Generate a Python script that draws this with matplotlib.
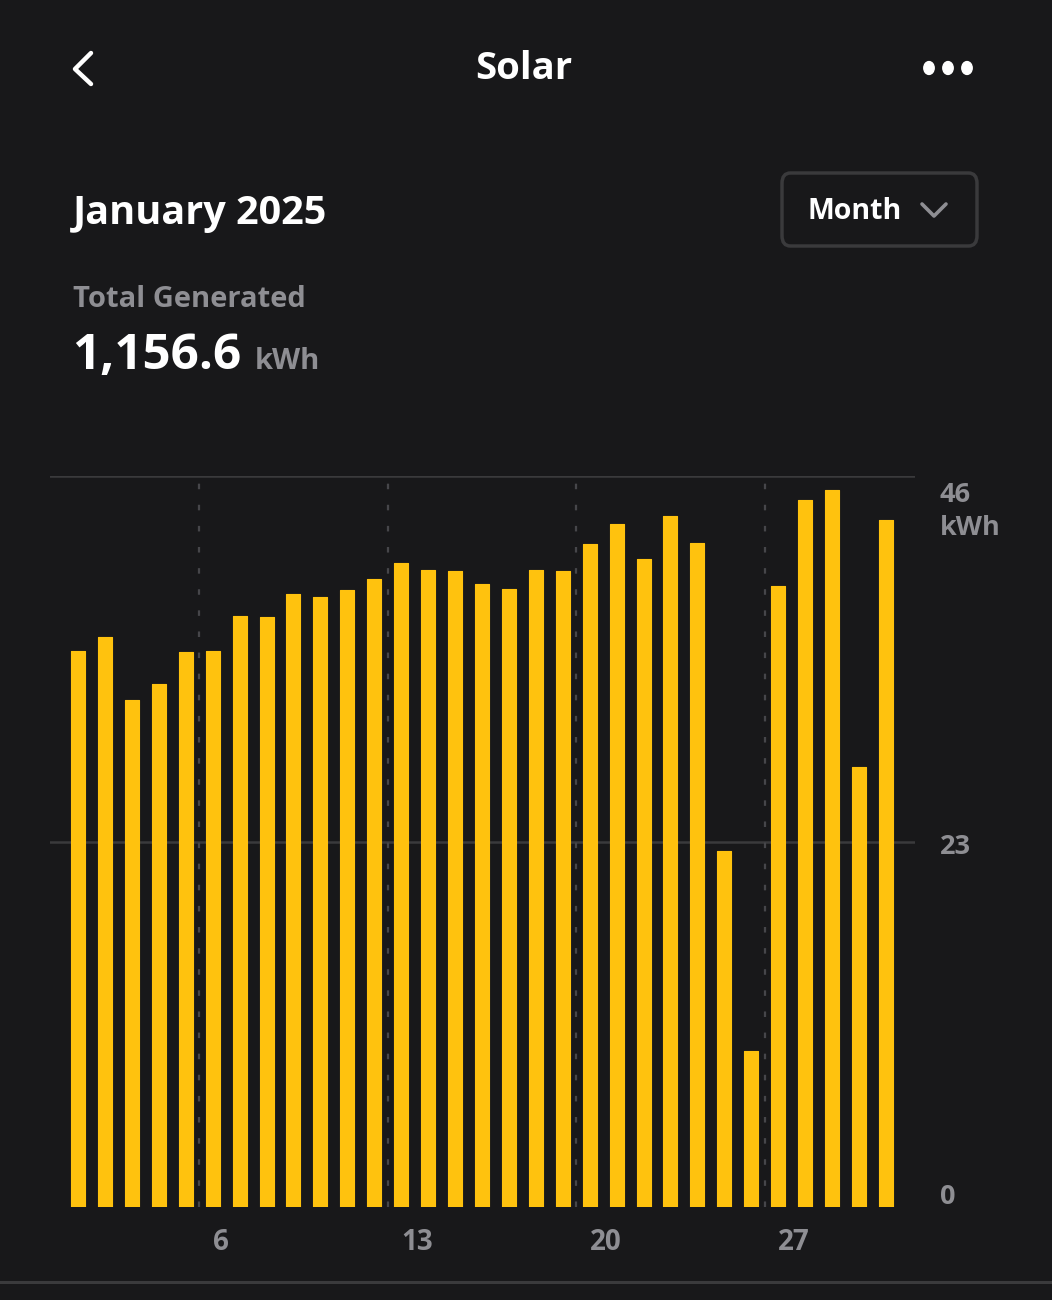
import matplotlib
matplotlib.use("Agg")
import matplotlib.pyplot as plt
from matplotlib.patches import FancyBboxPatch, Circle
from matplotlib.lines import Line2D
import numpy as np

# ---- data ----
days = list(range(1, 32))
kwh = [35.0, 35.9, 31.9, 32.9, 34.9, 35.0, 37.2, 37.1, 38.6, 38.4,
       38.8, 39.5, 40.5, 40.1, 40.0, 39.2, 38.9, 40.1, 40.0, 41.7,
       43.0, 40.8, 43.5, 41.8, 22.4, 9.8, 39.1, 44.5, 45.1, 27.7, 43.2]
x_tick_days = [6, 13, 20, 27]
y_ticks = [0, 23, 46]
title = "Solar"
period = "January 2025"
range_label = "Month"
total_label = "Total Generated"
total_value = "1,156.6"
unit = "kWh"

BG = "#18181a"
BAR = "#FFC20E"
GRID = "#3a3a3c"
GRAY = "#8e8e93"
WHITE = "#ffffff"
FONT = "Open Sans"

W, H = 1052, 1300
fig = plt.figure(figsize=(W / 100, H / 100), dpi=100)
fig.patch.set_facecolor(BG)

def fx(px):
    return px / W

def fy(py):
    return 1 - py / H

def ftext(x, y, s, **kw):
    kw.setdefault("family", FONT)
    kw.setdefault("fontweight", "bold")
    kw.setdefault("va", "baseline")
    kw.setdefault("ha", "left")
    return fig.text(fx(x), fy(y), s, **kw)

# ---- header ----
ftext(524, 79, title, color=WHITE, fontsize=27.5, ha="center")
# back chevron
fig.add_artist(Line2D([fx(91), fx(75), fx(91)], [fy(53), fy(69), fy(84)],
                      color=WHITE, lw=3.2, solid_capstyle="round",
                      solid_joinstyle="round", transform=fig.transFigure))
# three dots
for cx in (929, 948, 967):
    fig.add_artist(Circle((fx(cx), fy(68)), radius=5.2 / W, color=WHITE,
                          transform=fig.transFigure))

ftext(73, 224, period, color=WHITE, fontsize=28.5)

# Month button
btn = FancyBboxPatch((fx(782), fy(246)), fx(977 - 782), (246 - 173) / H,
                     boxstyle="round,pad=0,rounding_size=0.008",
                     transform=fig.transFigure, facecolor=BG,
                     edgecolor=GRID, lw=2.5)
fig.add_artist(btn)
ftext(807, 219, range_label, color=WHITE, fontsize=20.5)
fig.add_artist(Line2D([fx(922), fx(934), fx(946)], [fy(204), fy(216), fy(204)],
                      color=GRAY, lw=2.6, solid_capstyle="round",
                      solid_joinstyle="round", transform=fig.transFigure))

ftext(73, 307, total_label, color=GRAY, fontsize=21)
ftext(72, 369, total_value, color=WHITE, fontsize=35.5)
ftext(255, 369, unit, color=GRAY, fontsize=21)

# ---- chart ----
left, right, top, bottom = 50, 915, 476, 1207
ax = fig.add_axes([fx(left), fy(bottom), fx(right - left), (bottom - top) / H])
ax.set_facecolor(BG)
slot = 26.93
x0 = 1 - (78 - left) / slot
x1 = 1 + (right - 78) / slot
ax.set_xlim(x0, x1)
ax.set_ylim(0, 46)

ax.bar(days, kwh, width=0.52, color=BAR, edgecolor=BAR, linewidth=0.8,
       joinstyle="round", zorder=3)

for yv in y_ticks[1:]:
    ax.axhline(yv, color=GRID, lw=1.8, zorder=1)
for d in x_tick_days:
    ax.axvline(d - 0.5, ymin=0, ymax=1, color="#46464a", lw=1.6,
               linestyle=(0, (2.5, 7)), zorder=1)

ax.set_xticks([])
ax.set_yticks([])
for s in ax.spines.values():
    s.set_visible(False)

# x labels: data x, figure-pixel y
for d in x_tick_days:
    ax.annotate(str(d), xy=(d, H - 1250), xycoords=("data", "figure pixels"),
                color=GRAY, fontsize=20, fontweight="bold", family=FONT,
                ha="left", va="baseline", annotation_clip=False)

# y labels: figure-pixel x, data y with pixel offsets
def ylab(s, yval, dy_px):
    ax.annotate(s, xy=(940, yval), xycoords=("figure pixels", "data"),
                xytext=(0, -dy_px * 0.72), textcoords="offset points",
                color=GRAY, fontsize=19.5, fontweight="bold", family=FONT,
                ha="left", va="baseline", annotation_clip=False)

ylab(str(y_ticks[2]), y_ticks[2], 502 - 476)
ylab(unit, y_ticks[2], 535 - 476)
ylab(str(y_ticks[1]), y_ticks[1], 853 - 841)
ylab(str(y_ticks[0]), y_ticks[0], 1204 - 1207)

# bottom separator
fig.add_artist(Line2D([0, 1], [fy(1282), fy(1282)], color=GRID, lw=2.2,
                      transform=fig.transFigure))

fig.savefig("out.png", dpi=100, facecolor=BG)
